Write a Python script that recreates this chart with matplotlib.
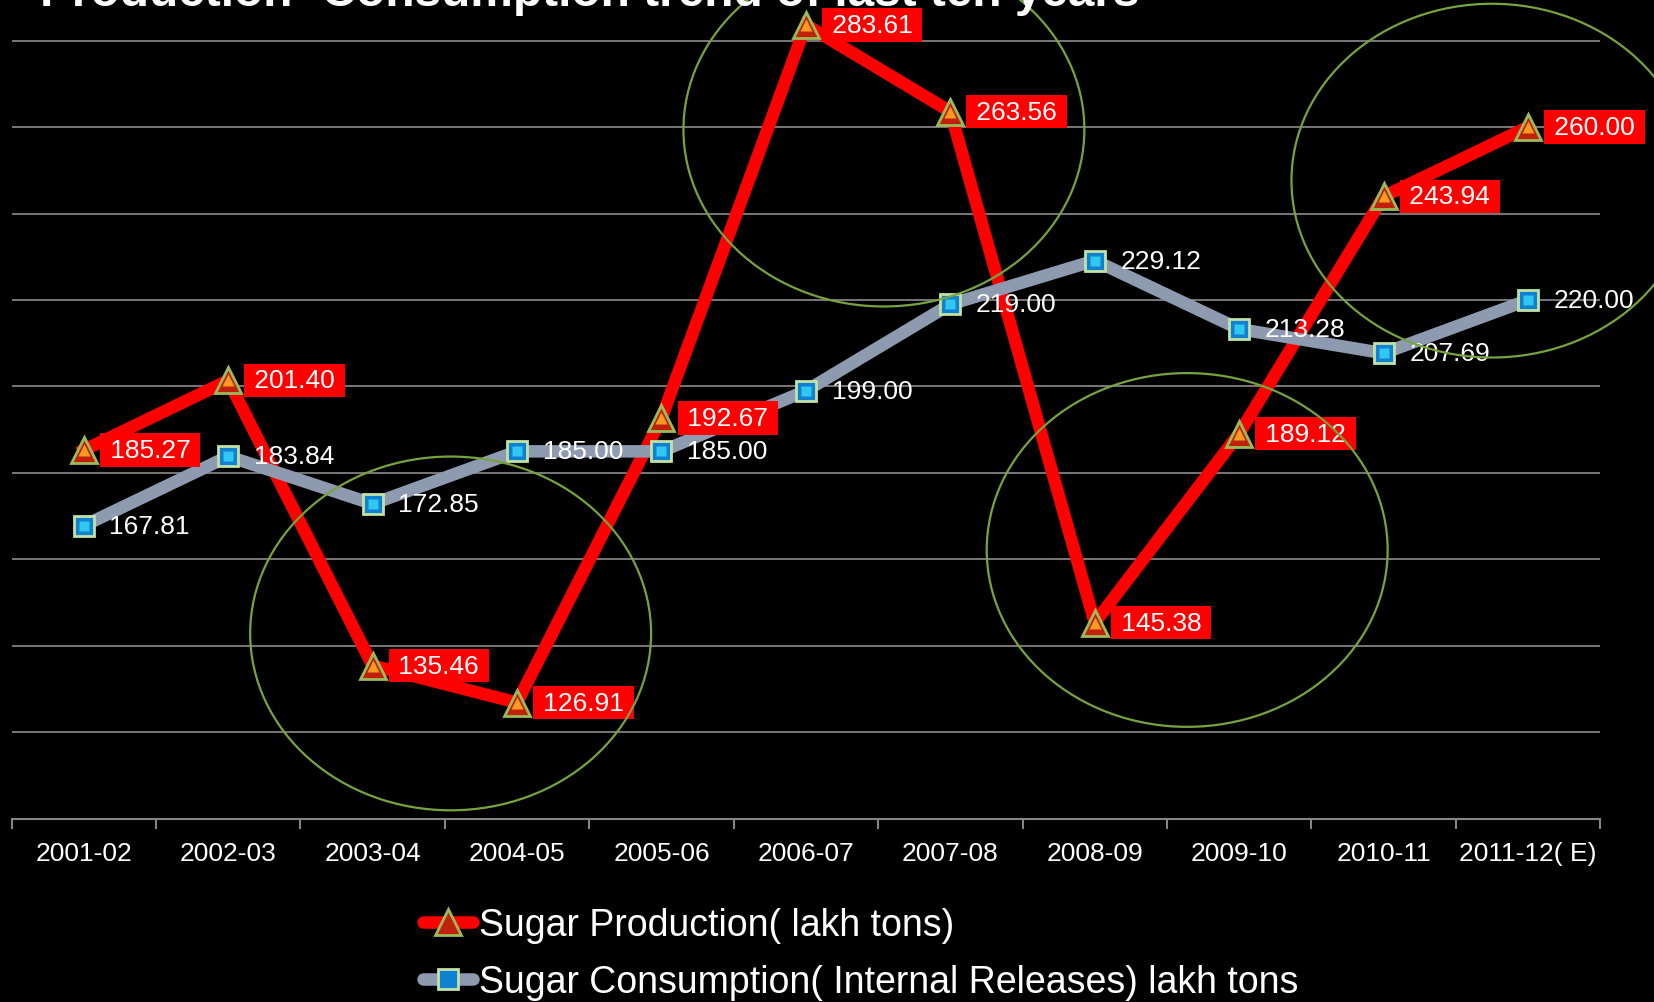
import matplotlib
matplotlib.use('Agg')
import matplotlib.pyplot as plt
from matplotlib.patches import Ellipse

# Donnees du graphique
annees = ['2001-02', '2002-03', '2003-04', '2004-05', '2005-06', '2006-07',
          '2007-08', '2008-09', '2009-10', '2010-11', '2011-12( E)']
production = [185.27, 201.40, 135.46, 126.91, 192.67, 283.61,
              263.56, 145.38, 189.12, 243.94, 260.00]
consommation = [167.81, 183.84, 172.85, 185.00, 185.00, 199.00,
                219.00, 229.12, 213.28, 207.69, 220.00]
nom_production = 'Sugar Production( lakh tons)'
nom_consommation = 'Sugar Consumption( Internal Releases) lakh tons'
titre = 'Production- Consumption trend of last ten years'

# Ellipses de mise en evidence (centre x, centre y)
cercles = [(2.54, 142.9), (5.54, 259.4), (7.64, 162.2), (9.75, 247.6)]

plt.rcParams['font.family'] = ['Liberation Sans', 'DejaVu Sans']


def tracer():
    fig = plt.figure(figsize=(16.54, 10.03), dpi=100, facecolor='black')
    ax = fig.add_axes([0.007, 0.1825, 0.9605, 0.8175])
    ax.set_facecolor('black')

    x = list(range(len(annees)))

    # Courbes
    ax.plot(x, production, color='#ff0000', linewidth=9, solid_joinstyle='miter',
            marker='^', markersize=19, markerfacecolor='#c0200c',
            markeredgecolor='#9bbb59', markeredgewidth=2,
            label=nom_production, zorder=3)
    ax.plot(x, consommation, color='#8e9ab0', linewidth=9, solid_joinstyle='miter',
            marker='s', markersize=15, markerfacecolor='#1080d0',
            markeredgecolor='#c3e2a5', markeredgewidth=2,
            label=nom_consommation, zorder=3)
    # petit reflet au centre des marqueurs
    ax.plot(x, production, linestyle='none', marker='^', markersize=8,
            markerfacecolor='#ff9a20', markeredgecolor='none', zorder=4)
    ax.plot(x, consommation, linestyle='none', marker='s', markersize=7,
            markerfacecolor='#30c8f0', markeredgecolor='none', zorder=4)

    # Etiquettes des valeurs
    for i, v in enumerate(production):
        ax.annotate('\u2009' + f'{v:.2f}' + '\u2009', (i, v), xytext=(15, 0),
                    textcoords='offset points', ha='left', va='center',
                    color='white', fontsize=19, zorder=5,
                    bbox=dict(boxstyle='square,pad=0.18', facecolor='#ff0000',
                              edgecolor='none'))
    for i, v in enumerate(consommation):
        ax.annotate(f'{v:.2f}', (i, v), xytext=(18.5, 0), textcoords='offset points',
                    ha='left', va='center', color='white', fontsize=19, zorder=5)

    # Ellipses vertes
    for cx, cy in cercles:
        ax.add_patch(Ellipse((cx, cy), 2.776, 81.8, fill=False,
                             edgecolor='#77a33e', linewidth=1.6,
                             clip_on=False, zorder=6))

    # Axes et grille
    ax.set_xlim(-0.5, len(annees) - 0.5)
    ax.set_ylim(100, 289.6)
    ax.set_yticks(range(120, 281, 20))
    ax.yaxis.grid(True, color='#8c8c8c', linewidth=1.2)
    ax.set_axisbelow(True)
    ax.tick_params(axis='y', left=False, labelleft=False)
    ax.set_xticks(x)
    ax.set_xticklabels(annees, color='white', fontsize=19)
    ax.set_xticks([i - 0.5 for i in range(len(annees) + 1)], minor=True)
    ax.tick_params(axis='x', which='major', length=0, pad=16)
    ax.tick_params(axis='x', which='minor', length=7, width=1.5, color='#868686')
    for cote in ['top', 'right', 'left']:
        ax.spines[cote].set_visible(False)
    ax.spines['bottom'].set_color('#868686')
    ax.spines['bottom'].set_linewidth(1.5)

    # Titre (coupe en haut comme l'original)
    fig.text(0.024, 1 - 6 / 1003, titre, color='white', fontsize=34.4,
             fontweight='bold', ha='left', va='baseline')

    # Legende
    leg = fig.legend(loc='upper left', bbox_to_anchor=(0.2556, 0.095), frameon=False,
                     fontsize=27, handlelength=1.35, handletextpad=0.15,
                     labelspacing=0.56, borderpad=0, borderaxespad=0)
    for t in leg.get_texts():
        t.set_color('white')
    for h in leg.legend_handles:
        h.set_solid_capstyle('round')

    fig.savefig('out.png', dpi=100, facecolor='black')


def main():
    tracer()


if __name__ == '__main__':
    main()
